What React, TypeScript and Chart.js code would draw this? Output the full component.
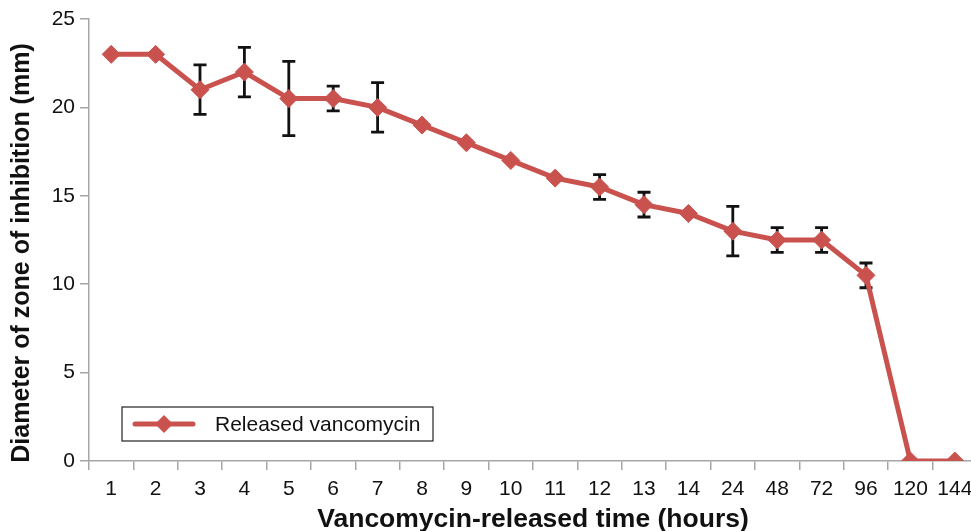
import React, { useEffect, useRef } from "react";
import { Chart, registerables } from "chart.js";

Chart.register(...registerables);

const categories = ["1", "2", "3", "4", "5", "6", "7", "8", "9", "10", "11", "12", "13", "14", "24", "48", "72", "96", "120", "144"];
const zoneValues = [23, 23, 21, 22, 20.5, 20.5, 20, 19, 18, 17, 16, 15.5, 14.5, 14, 13, 12.5, 12.5, 10.5, 0, 0];
const zoneErrors = [0, 0, 1.4, 1.4, 2.1, 0.7, 1.4, 0, 0, 0, 0, 0.7, 0.7, 0, 1.4, 0.7, 0.7, 0.7, 0, 0];
const yTicks = [0, 5, 10, 15, 20, 25];
const seriesLabel = "Released vancomycin";
const xTitle = "Vancomycin-released time (hours)";
const yTitle = "Diameter of zone of inhibition (mm)";

const RED = "#c9524e";
const AXIS = "#a6a6a6";
const FONT = "'Liberation Sans', Arial, sans-serif";

const errorBarPlugin = {
  id: "errorBars",
  beforeDatasetsDraw(chart: any) {
    const { ctx } = chart;
    const meta = chart.getDatasetMeta(0);
    const y = chart.scales.y;
    ctx.save();
    ctx.strokeStyle = "#111";
    ctx.lineWidth = 2.8;
    meta.data.forEach((pt: any, i: number) => {
      const e = zoneErrors[i];
      if (!e) return;
      const v = zoneValues[i];
      const yt = y.getPixelForValue(v + e);
      const yb = y.getPixelForValue(v - e);
      const x = pt.x;
      ctx.beginPath();
      ctx.moveTo(x, yt);
      ctx.lineTo(x, yb);
      ctx.moveTo(x - 6.5, yt);
      ctx.lineTo(x + 6.5, yt);
      ctx.moveTo(x - 6.5, yb);
      ctx.lineTo(x + 6.5, yb);
      ctx.stroke();
    });
    ctx.restore();
  },
};

const legendPlugin = {
  id: "boxLegend",
  afterDraw(chart: any) {
    const { ctx, chartArea } = chart;
    // y-axis title
    ctx.save();
    ctx.fillStyle = "#111";
    ctx.font = `bold 25px ${FONT}`;
    ctx.textAlign = "center";
    ctx.textBaseline = "middle";
    ctx.translate(chartArea.left - 67, (chartArea.top + chartArea.bottom) / 2 + 13);
    ctx.rotate(-Math.PI / 2);
    ctx.fillText(yTitle, 0, 0);
    ctx.restore();

    const x0 = chartArea.left + 33;
    const y0 = chartArea.bottom - 54;
    const w = 311;
    const h = 34;
    ctx.save();
    ctx.fillStyle = "#fff";
    ctx.fillRect(x0, y0, w, h);
    ctx.strokeStyle = "#222";
    ctx.lineWidth = 1.2;
    ctx.strokeRect(x0, y0, w, h);
    const cy = y0 + h / 2;
    ctx.strokeStyle = RED;
    ctx.lineWidth = 5;
    ctx.lineCap = "round";
    ctx.beginPath();
    ctx.moveTo(x0 + 13, cy);
    ctx.lineTo(x0 + 71, cy);
    ctx.stroke();
    ctx.fillStyle = RED;
    ctx.beginPath();
    const cx = x0 + 42;
    ctx.moveTo(cx, cy - 9);
    ctx.lineTo(cx + 9, cy);
    ctx.lineTo(cx, cy + 9);
    ctx.lineTo(cx - 9, cy);
    ctx.closePath();
    ctx.fill();
    ctx.fillStyle = "#111";
    ctx.font = `21px ${FONT}`;
    ctx.textBaseline = "middle";
    ctx.textAlign = "left";
    ctx.fillText(seriesLabel, x0 + 93, cy + 1);
    ctx.restore();
  },
};

export default function App() {
  const ref = useRef<HTMLCanvasElement>(null);
  useEffect(() => {
    document.body.style.margin = "0";
    const chart = new Chart(ref.current!, {
      type: "line",
      data: {
        labels: categories,
        datasets: [
          {
            label: seriesLabel,
            data: zoneValues,
            borderColor: RED,
            backgroundColor: RED,
            borderWidth: 5,
            pointStyle: "rectRot",
            pointRadius: 9,
            pointHoverRadius: 9,
            pointBackgroundColor: RED,
            pointBorderColor: RED,
            pointBorderWidth: 1,
            tension: 0,
          },
        ],
      },
      options: {
        animation: false,
        responsive: false,
        layout: { padding: { top: 19, right: 0, left: 0, bottom: 0 } },
        plugins: { legend: { display: false }, tooltip: { enabled: false } },
        scales: {
          x: {
            type: "category",
            offset: true,
            grid: {
              display: true,
              offset: true,
              drawOnChartArea: false,
              drawTicks: true,
              tickLength: 9,
              color: AXIS,
              lineWidth: 1.5,
            },
            border: { color: AXIS, width: 1.5 },
            ticks: { color: "#111", font: { family: FONT, size: 21 }, padding: 7, maxRotation: 0, autoSkip: false },
            title: {
              display: true,
              text: xTitle,
              color: "#111",
              font: { family: FONT, size: 26.5, weight: "bold" },
              padding: { top: 0, bottom: -5 },
            },
            afterFit(scale: any) {
              scale.height = 70;
            },
          },
          y: {
            min: 0,
            max: 25,
            afterBuildTicks(scale: any) {
              scale.ticks = yTicks.map((v) => ({ value: v }));
            },
            grid: {
              display: true,
              drawOnChartArea: false,
              drawTicks: true,
              tickLength: 9,
              color: AXIS,
              lineWidth: 1.5,
            },
            border: { color: AXIS, width: 1.5 },
            ticks: { color: "#111", font: { family: FONT, size: 21 }, padding: 5 },
            title: { display: false, text: yTitle },
            afterFit(scale: any) {
              scale.width = 89;
            },
          },
        },
      },
      plugins: [errorBarPlugin, legendPlugin],
    });
    return () => chart.destroy();
  }, []);
  return (
    <div style={{ position: "absolute", left: 0, top: 0, width: 971, height: 531, overflow: "hidden" }}>
      <canvas ref={ref} width={987} height={531} style={{ display: "block" }} />
    </div>
  );
}
